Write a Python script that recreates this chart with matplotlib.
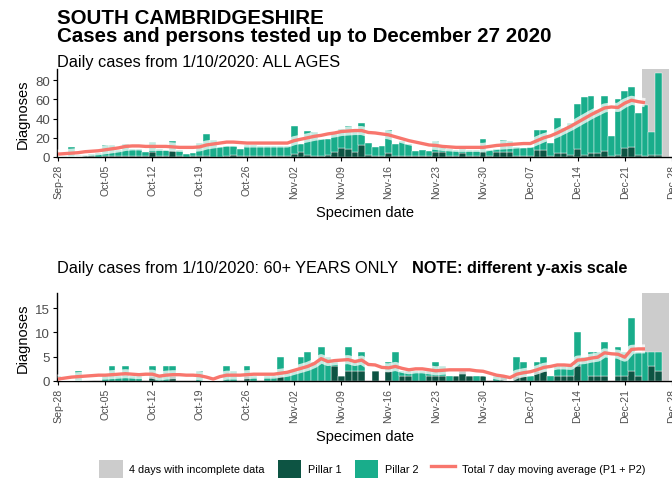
import numpy as np
import matplotlib
matplotlib.use("Agg")
import matplotlib.pyplot as plt
import matplotlib.patheffects as pe
from matplotlib.patches import Patch
from matplotlib.lines import Line2D
import datetime as dt

plt.rcParams['font.family'] = ['Liberation Sans', 'DejaVu Sans']

start_date = dt.date(2020, 9, 28)
n_days = 91
dates = [start_date + dt.timedelta(days=i) for i in range(n_days)]

# ---- ALL AGES ----
all_total = [1, 1, 10, 2, 2, 3, 4, 12, 12, 7, 14, 8, 8, 5, 16, 8, 7, 17, 7, 3,
             4, 15, 24, 18, 10, 11, 11, 8, 12, 12, 11, 11, 11, 11, 11, 32, 14, 27, 26, 19,
             19, 24, 29, 32, 28, 35, 15, 10, 11, 28, 14, 17, 13, 6, 7, 6, 17, 10, 8, 7,
             8, 7, 7, 19, 7, 8, 18, 17, 10, 9, 10, 28, 28, 15, 41, 30, 35, 55, 62, 63,
             49, 63, 22, 60, 69, 73, 46, 54, 26, 87, 0]
all_p1 = [0, 0, 0, 1, 1, 1, 0, 1, 1, 1, 1, 1, 1, 1, 5, 1, 1, 6, 1, 0,
          1, 1, 1, 0, 0, 1, 2, 1, 1, 1, 1, 1, 1, 1, 1, 3, 5, 2, 1, 1,
          2, 5, 9, 8, 5, 12, 2, 1, 1, 4, 1, 1, 1, 1, 1, 1, 5, 5, 1, 1,
          4, 1, 1, 5, 1, 5, 5, 5, 1, 1, 1, 7, 7, 1, 4, 4, 2, 8, 2, 4,
          4, 6, 1, 2, 9, 10, 2, 1, 2, 2, 0]
all_avg = [3, 3.5, 4, 4.5, 5.5, 6, 6.5, 7.5, 8.5, 9.5, 11, 11.5, 11.5, 11, 11, 11, 11, 10.5, 10, 10,
           10, 10.5, 12.5, 13.5, 14.5, 15.5, 15.5, 15, 14.5, 14.5, 14.5, 14.5, 14.5, 14.5, 14.5, 17, 18.5, 20, 21.5, 22.5,
           24, 25, 26.5, 27, 27.5, 27.5, 25.5, 25, 24, 23, 21, 19, 17, 15.5, 14, 12.5, 12, 11, 10.5, 10,
           10, 10, 10, 10, 11, 12, 12.5, 13, 13.5, 14, 14, 17, 20, 22, 25, 28.5, 32, 36, 40, 44,
           47.5, 51, 52, 51.5, 56, 59, 57.5, 56.5]

# ---- 60+ ----
old_total = [1, 0, 0, 2, 0, 0, 0, 1, 3, 1, 3, 1, 1, 0, 3, 1, 3, 3, 0, 0,
             0, 2, 0, 0, 0, 3, 2, 0, 3, 1, 0, 1, 1, 5, 2, 2, 5, 6, 4, 7,
             5, 4, 1, 7, 4, 6, 0, 2, 0, 4, 6, 2, 2, 2, 2, 2, 4, 3, 1, 1,
             2, 1, 1, 1, 0, 1, 1, 0, 5, 4, 1, 4, 5, 1, 3, 3, 3, 10, 5, 6,
             6, 8, 0, 7, 6, 13, 6, 6, 6, 6, 0]
old_p1 = [0, 0, 0, 0, 0, 0, 0, 0, 0, 0, 0, 0, 0, 0, 1, 0, 0, 1, 0, 0,
          0, 0, 0, 0, 0, 0, 0, 0, 1, 0, 0, 0, 0, 1, 0, 0, 0, 0, 0, 0,
          0, 3, 1, 2, 2, 2, 0, 2, 0, 2, 0, 1, 1, 0, 0, 1, 1, 1, 0, 1,
          2, 1, 0, 1, 0, 0, 1, 0, 1, 1, 0, 2, 2, 0, 1, 1, 1, 3, 0, 1,
          1, 1, 0, 1, 1, 2, 1, 0, 3, 2, 0]
old_avg = [0.4, 0.6, 0.8, 0.9, 1.0, 1.1, 1.2, 1.2, 1.3, 1.4, 1.5, 1.4, 1.3, 1.4, 1.4, 1.0, 1.2, 1.3, 1.3, 1.2,
           1.2, 1.1, 0.8, 0.4, 0.9, 1.2, 1.2, 1.2, 1.3, 1.4, 1.4, 1.4, 1.4, 1.6, 1.8, 2.2, 2.6, 3.0, 3.6, 4.6,
           4.0, 4.2, 4.3, 4.4, 4.0, 4.3, 3.4, 3.3, 2.8, 2.7, 3.0, 2.6, 2.3, 2.5, 2.5, 2.3, 2.1, 2.2, 2.3, 2.3,
           2.3, 2.3, 2.1, 2.0, 1.6, 1.2, 1.0, 0.7, 1.4, 1.7, 1.9, 2.3, 2.8, 3.0, 3.3, 3.3, 3.2, 4.3, 4.4, 4.7,
           4.9, 5.8, 5.6, 5.5, 4.9, 6.5, 6.6, 6.6]

incomplete_start, incomplete_days = 87, 4   # Dec 24 - Dec 27
tick_days = list(range(0, 92, 7))
tick_labels = [(start_date + dt.timedelta(days=d)).strftime('%b-%d') for d in tick_days]

C_P1 = '#0d5443'
C_P2 = '#19ad8b'
C_LINE = '#f8766d'
C_GREY = '#cccccc'
C_TXT = '#4d4d4d'

fig = plt.figure(figsize=(6.72, 4.85), dpi=100)

def panel(rect, total, p1, avg, ylim, yticks):
    ax = fig.add_axes(rect)
    x = np.arange(n_days)
    total = np.array(total, float)
    p1 = np.array(p1, float)
    p2 = total - p1
    ax.axvspan(incomplete_start - 0.5, incomplete_start + incomplete_days - 0.5,
               color=C_GREY, lw=0, zorder=0)
    ax.bar(x, p1, width=1.0, color=C_P1, edgecolor='white', linewidth=0.3, zorder=2)
    ax.bar(x, p2, width=1.0, bottom=p1, color=C_P2, edgecolor='white', linewidth=0.3, zorder=2)
    xa = np.arange(len(avg))
    ax.plot(xa, avg, color=C_LINE, lw=2.4, zorder=4, solid_capstyle='butt',
            path_effects=[pe.Stroke(linewidth=6.5, foreground='white', alpha=0.75), pe.Normal()])
    ax.set_xlim(-0.15, 91)
    ax.set_ylim(*ylim)
    ax.set_yticks(yticks)
    ax.set_xticks(tick_days)
    ax.set_xticklabels(tick_labels, rotation=90, fontsize=7.6, color=C_TXT)
    ax.tick_params(axis='y', labelsize=9.5, labelcolor=C_TXT, length=3, width=0.8, pad=2)
    ax.tick_params(axis='x', length=3, width=0.8, pad=2)
    for s in ['top', 'right']:
        ax.spines[s].set_visible(False)
    for s in ['left', 'bottom']:
        ax.spines[s].set_linewidth(1.0)
    ax.set_ylabel('Diagnoses', fontsize=10.5, labelpad=4)
    ax.set_xlabel('Specimen date', fontsize=10.5, labelpad=5)
    return ax

ax1 = panel([57/672, (485-158)/485, 615/672, 88/485], all_total, all_p1, all_avg, (0, 91.5), [0, 20, 40, 60, 80])
ax2 = panel([57/672, (485-382)/485, 615/672, 88/485], old_total, old_p1, old_avg, (0, 18.1), [0, 5, 10, 15])

fig.text(57/672, 1 - 18/485, 'SOUTH CAMBRIDGESHIRE', fontsize=14.8, fontweight='bold', va='center', ha='left')
fig.text(57/672, 1 - 37/485, 'Cases and persons tested up to December 27 2020', fontsize=14.8, fontweight='bold', va='center', ha='left')
fig.text(57/672, 1 - 62/485, 'Daily cases from 1/10/2020: ALL AGES', fontsize=11.7, va='center', ha='left')
fig.text(57/672, 1 - 268/485, 'Daily cases from 1/10/2020: 60+ YEARS ONLY', fontsize=11.7, va='center', ha='left')
fig.text(412/672, 1 - 268/485, 'NOTE: different y-axis scale', fontsize=11.7, fontweight='bold', va='center', ha='left')

handles = [Patch(facecolor=C_GREY, edgecolor='none'),
           Patch(facecolor=C_P1, edgecolor='none'),
           Patch(facecolor=C_P2, edgecolor='none'),
           Line2D([0], [0], color=C_LINE, lw=2.4)]
labels = ['4 days with incomplete data', 'Pillar 1', 'Pillar 2', 'Total 7 day moving average (P1 + P2)']
fig.legend(handles, labels, loc='center', bbox_to_anchor=(372/672, 1 - 470/485), ncol=4,
           frameon=False, fontsize=7.8, handlelength=2.2, handleheight=2.2, columnspacing=1.2,
           handletextpad=0.6)

fig.savefig('out.png', dpi=100)
